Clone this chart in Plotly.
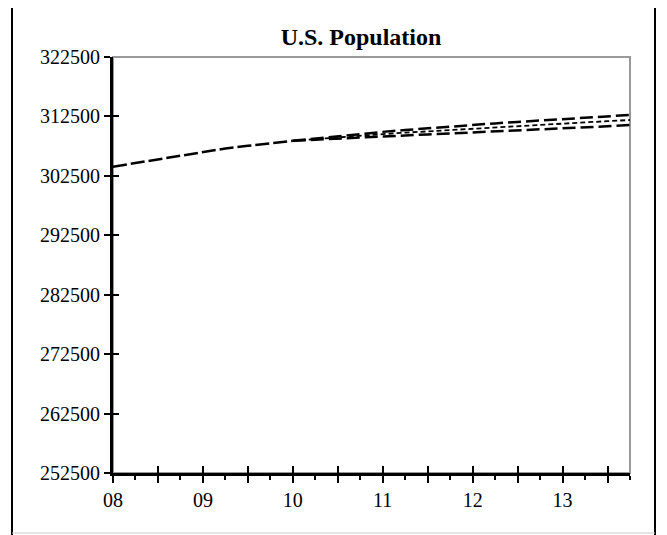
import plotly.graph_objects as go

# ---- data (thousands of persons), quarterly, decimal years ----
hist_quarters = [2008.0, 2008.25, 2008.5, 2008.75, 2009.0, 2009.25, 2009.5, 2009.75, 2010.0]
hist_pop = [304040, 304650, 305250, 305870, 306480, 307100, 307550, 307980, 308400]

fc_quarters = [2010.0, 2010.25, 2010.5, 2010.75, 2011.0, 2011.25, 2011.5, 2011.75,
               2012.0, 2012.25, 2012.5, 2012.75, 2013.0, 2013.25, 2013.5, 2013.75]
fc_upper = [308400, 308800, 309200, 309560, 309900, 310220, 310520, 310800,
            311070, 311330, 311580, 311820, 312050, 312280, 312510, 312740]
fc_middle = [308400, 308700, 308990, 309260, 309520, 309770, 310000, 310230,
             310450, 310670, 310880, 311090, 311300, 311500, 311700, 311900]
fc_lower = [308400, 308600, 308800, 308980, 309150, 309320, 309480, 309640,
            309800, 309960, 310120, 310280, 310440, 310620, 310840, 311060]

x_major = [2008, 2008.5, 2009, 2009.5, 2010, 2010.5, 2011, 2011.5, 2012, 2012.5, 2013, 2013.5]
x_labels = ["08", "", "09", "", "10", "", "11", "", "12", "", "13", ""]
x_minor = [2008.25, 2008.75, 2009.25, 2009.75, 2010.25, 2010.75, 2011.25, 2011.75,
           2012.25, 2012.75, 2013.25, 2013.75]
y_ticks = [252500, 262500, 272500, 282500, 292500, 302500, 312500, 322500]
y_labels = ["252500", "262500", "272500", "282500", "292500", "302500", "312500", "322500"]

FONT = "Liberation Serif, Times New Roman, serif"

fig = go.Figure()
fig.add_trace(go.Scatter(x=hist_quarters, y=hist_pop, mode="lines",
                         line=dict(color="black", width=2.5, dash="14px,4px"),
                         showlegend=False, hoverinfo="skip"))
fig.add_trace(go.Scatter(x=fc_quarters, y=fc_upper, mode="lines",
                         line=dict(color="black", width=2.5, dash="13px,5px"),
                         showlegend=False))
fig.add_trace(go.Scatter(x=fc_quarters, y=fc_middle, mode="lines",
                         line=dict(color="black", width=1.8, dash="5px,3px"),
                         showlegend=False))
fig.add_trace(go.Scatter(x=fc_quarters, y=fc_lower, mode="lines",
                         line=dict(color="black", width=2.5, dash="13px,5px"),
                         showlegend=False))

# page body has an 8px default margin, so figure coordinates are offset by 8px
OFF = 8
W, H = 667 - OFF, 535 - OFF
L, T = 113 - OFF, 57 - OFF
R, B = W - (630 - OFF), H - (473 - OFF)
pw, ph = W - L - R, H - T - B

fig.update_layout(
    width=W, height=H,
    margin=dict(l=L, r=R, t=T, b=B, pad=0),
    paper_bgcolor="white", plot_bgcolor="white",
    font=dict(family=FONT, color="black", size=20),
    title=dict(text="<b>U.S. Population</b>", font=dict(family=FONT, size=24, color="black"),
               xref="paper", x=(361 - 113) / pw, xanchor="center",
               yref="container", y=1 - (37 - OFF) / H, yanchor="middle"),
    xaxis=dict(range=[2008, 2013.75], tickmode="array", tickvals=x_major, ticktext=x_labels,
               showgrid=False, zeroline=False, showline=True, linecolor="black", linewidth=3,
               ticks="outside", ticklen=7, tickwidth=2, tickcolor="black",
               ticklabelstandoff=0,
               minor=dict(tickmode="array", tickvals=x_minor, ticks="outside", ticklen=4,
                          tickwidth=2, tickcolor="black", showgrid=False),
               tickfont=dict(family=FONT, size=20)),
    xaxis2=dict(range=[2008, 2013.75], overlaying="x", tickmode="array", tickvals=x_major,
                showticklabels=False, showgrid=False, zeroline=False, showline=False,
                ticks="inside", ticklen=7, tickwidth=2, tickcolor="black", side="bottom"),
    yaxis=dict(range=[252500, 322500], tickmode="array", tickvals=y_ticks, ticktext=y_labels,
               showgrid=False, zeroline=False, showline=True, linecolor="black", linewidth=3,
               ticks="outside", ticklen=6, tickwidth=2, tickcolor="black",
               tickfont=dict(family=FONT, size=20)),
    yaxis2=dict(range=[252500, 322500], overlaying="y", tickmode="array", tickvals=y_ticks,
                showticklabels=False, showgrid=False, zeroline=False, showline=False,
                ticks="inside", ticklen=6, tickwidth=2, tickcolor="black", side="left"),
    shapes=[
        dict(type="rect", xref="paper", yref="paper", x0=0, x1=1, y0=0, y1=1,
             line=dict(color="#999999", width=2), layer="below"),
        dict(type="rect", xref="paper", yref="paper",
             x0=(12 - 113) / pw, x1=(655 - 113) / pw,
             y0=(473 - 545) / ph, y1=(473 - 6) / ph,
             line=dict(color="black", width=2), layer="below"),
        dict(type="line", xref="paper", yref="paper",
             x0=(12 - 113) / pw, x1=(655 - 113) / pw,
             y0=(473 - 533) / ph, y1=(473 - 533) / ph,
             line=dict(color="#cccccc", width=1), layer="below"),
    ],
)
# dummy trace to activate the overlay axes (crossing ticks)
fig.add_trace(go.Scatter(x=[None], y=[None], xaxis="x2", yaxis="y2", showlegend=False))

fig.write_html("out.html")
